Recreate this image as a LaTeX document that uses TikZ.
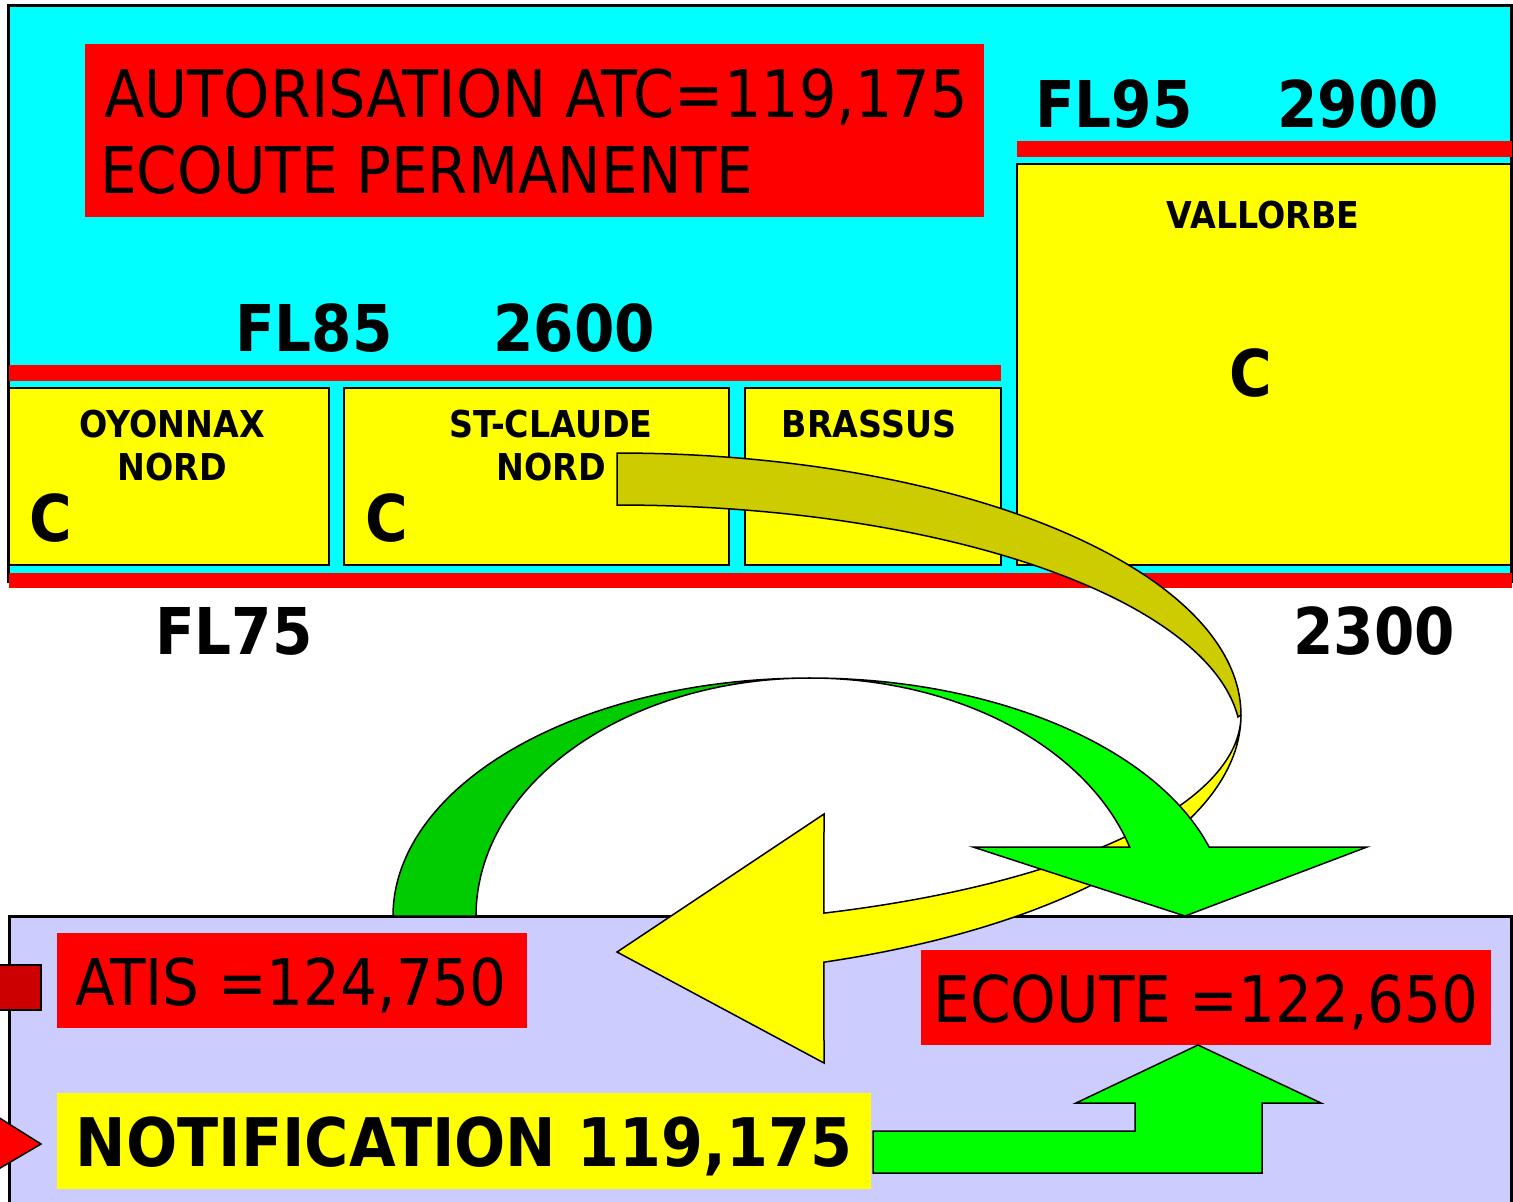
\documentclass[tikz,border=0pt]{standalone}
\usepackage{fontspec}
\setmainfont{DejaVu Sans}[FakeStretch=0.9]
\definecolor{cy}{HTML}{00FFFF}
\definecolor{rd}{HTML}{FF0000}
\definecolor{yl}{HTML}{FFFF00}
\definecolor{lav}{HTML}{CCCCFF}
\definecolor{gr}{HTML}{00FF00}
\definecolor{dgr}{HTML}{00CC00}
\definecolor{ol}{HTML}{CCCC00}
\definecolor{drd}{HTML}{CC0000}
\begin{document}
\begin{tikzpicture}[x=1pt,y=-1pt,
  zone/.style={draw=black,line width=2.5pt,fill=yl},
  bar/.style={fill=rd},
  shp/.style={draw=black,line width=1.5pt,line join=miter},
  lbl/.style={inner sep=0pt,anchor=base,font=\bfseries\fontsize{37}{44}\selectfont},
  big/.style={inner sep=0pt,anchor=base,font=\bfseries\fontsize{64.5}{78}\selectfont},
  reg/.style={inner sep=0pt,anchor=base,font=\fontsize{64.5}{78}\selectfont}]
\useasboundingbox (0,0) rectangle (1513,1202);
\clip (0,0) rectangle (1513,1202);
\fill[white] (0,0) rectangle (1513,1202);
% top airspace
\draw[line width=3pt,fill=cy] (8.5,5) rectangle (1511.5,581);
\fill[rd] (85,44) rectangle (984,217);
\node[reg,anchor=base west,font=\fontsize{65.5}{78}\selectfont] (atc) at (104,117) {AUTORISATION ATC=119,175};
\node[reg,anchor=base west] (perm) at (100,193) {ECOUTE PERMANENTE};
\node[big] (fl95) at (1114,127) {FL95};
\node[big] (a2900) at (1358,127) {2900};
\fill[rd] (1017,141) rectangle (1512,157);
\draw[zone] (1017,164) rectangle (1511,565);
\node[lbl] (vall) at (1263,228) {VALLORBE};
\node[big] (cv) at (1251,396) {C};
\node[big] (fl85) at (314,351) {FL85};
\node[big] (a2600) at (574,351) {2600};
\fill[rd] (9,365) rectangle (1001,381);
\draw[zone] (9,388) rectangle (329,565);
\draw[zone] (344,388) rectangle (729,565);
\draw[zone] (745,388) rectangle (1001,565);
\node[lbl] (oyo) at (172,437) {OYONNAX};
\node[lbl] (oyo2) at (172,480) {NORD};
\node[big] (co) at (51,541) {C};
\node[lbl] (stc) at (551,437) {ST-CLAUDE};
\node[lbl] (stc2) at (551,480) {NORD};
\node[big] (cs) at (387,541) {C};
\node[lbl] (bra) at (869,437) {BRASSUS};
\fill[rd] (9,573) rectangle (1512,588);
\node[big] (fl75) at (234,654) {FL75};
\node[big] (a2300) at (1374,654) {2300};
% bottom area
\draw[line width=3pt,fill=lav] (9,916) rectangle (1511.5,1215);
\fill[rd] (57,933) rectangle (527,1028);
\node[reg] (atis) at (291,1005) {ATIS =124,750};
\fill[rd] (921,950) rectangle (1491,1045);
\node[reg] (ecoute) at (1206,1022) {ECOUTE =122,650};
\fill[yl] (57,1093) rectangle (871,1189);
\node[big,font=\bfseries\fontsize{67}{78}\selectfont] (notif) at (464,1166) {NOTIFICATION 119,175};
\draw[shp,fill=drd] (-5,965) rectangle (41,1010);
\draw[shp,fill=rd] (-10,1112) -- (41,1144) -- (-10,1174) -- cycle;
\draw[shp,fill=gr] (873,1131) -- (1135,1131) -- (1135,1103) -- (1076,1103) -- (1198,1045)
  -- (1321,1103) -- (1262,1103) -- (1262,1173) -- (873,1173) -- cycle;
% olive / yellow curved arrow
\draw[shp,fill=ol] plot[domain=90:0,samples=90] ({617+624*cos(\x)},{715-262*sin(\x)})
  -- plot[domain=5.62:90,samples=90] ({617+624*cos(\x)},{740-235*sin(\x)}) -- cycle;
\draw[shp,fill=yl] plot[domain=0:-70.63,samples=80] ({617+624*cos(\x)},{715-262*sin(\x)})
  -- (824,1063) -- (617,952) -- (824,814)
  -- plot[domain=-70.63:-1,samples=80] ({617+624*cos(\x)},{715-210*sin(\x)}) -- cycle;
% green curved arrow
\draw[shp,fill=dgr] plot[domain=180:90,samples=90] ({810+417*cos(\x)},{916-238*sin(\x)})
  -- plot[domain=90:180,samples=90] ({810+334*cos(\x)},{916-238*sin(\x)}) -- cycle;
\draw[shp,fill=gr] plot[domain=90:16.85,samples=90] ({810+417*cos(\x)},{916-238*sin(\x)})
  -- (1367,847) -- (1185,916) -- (973,847)
  -- plot[domain=16.85:90,samples=90] ({810+334*cos(\x)},{916-238*sin(\x)}) -- cycle;
\end{tikzpicture}
\end{document}
